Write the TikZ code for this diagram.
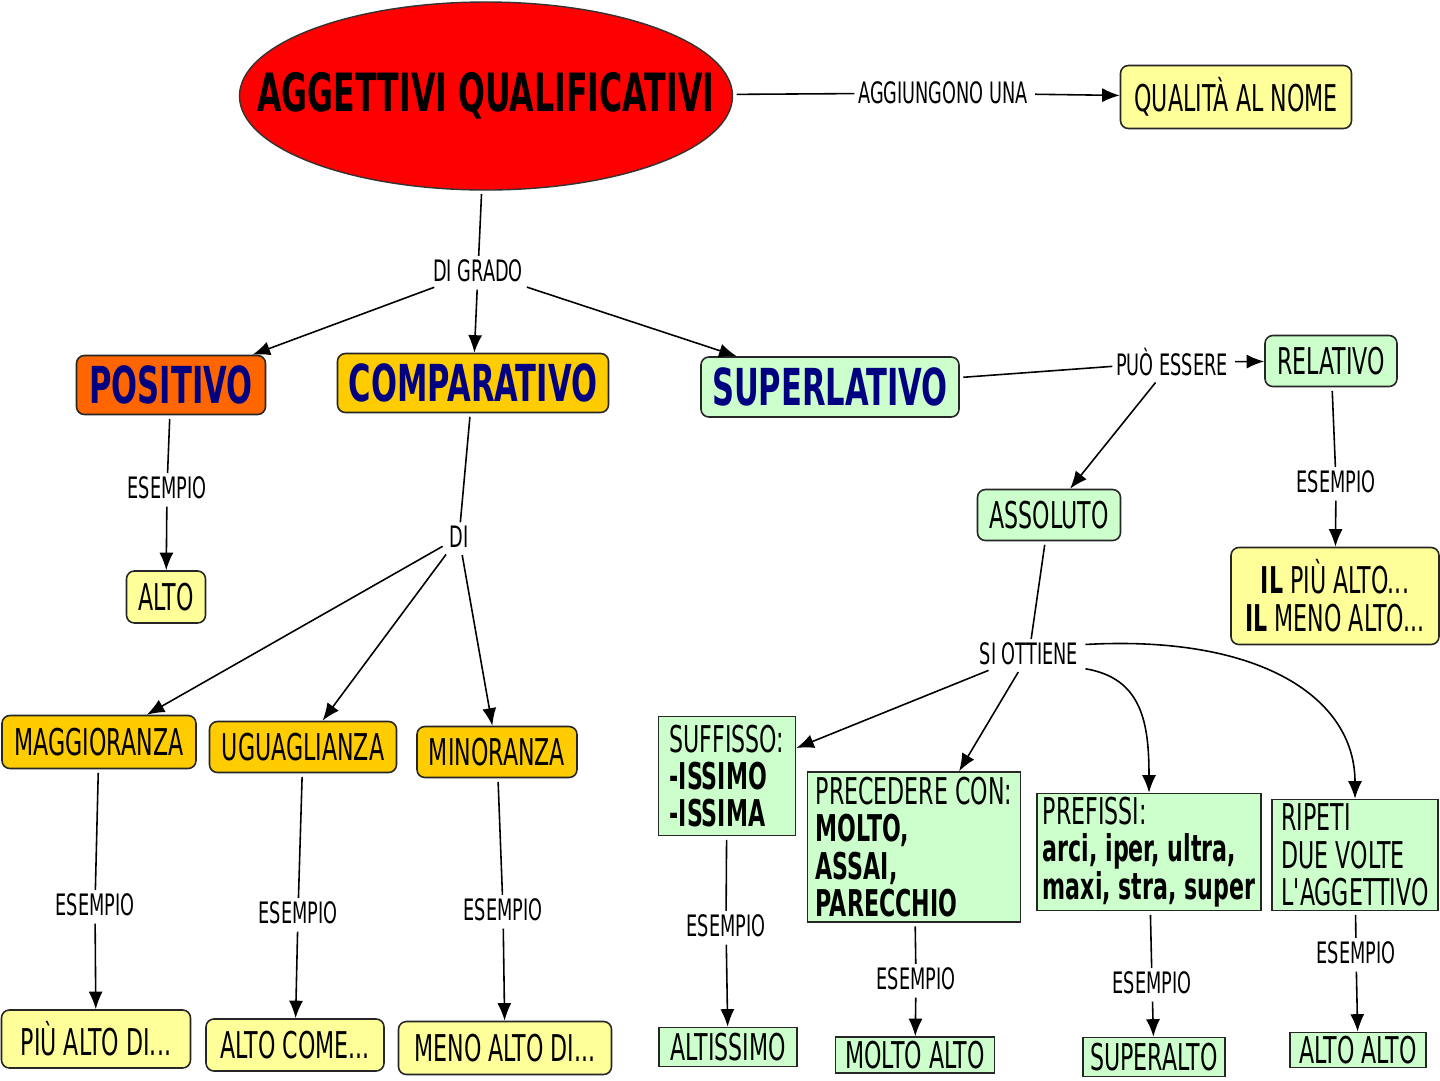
\documentclass[tikz,border=0pt]{standalone}
\usepackage{fontspec}
\setmainfont{DejaVu Sans}[FakeStretch=0.6, Ligatures=TeXOff]
\usepackage{tikz}
\usetikzlibrary{shapes.geometric}
\usetikzlibrary{arrows.meta}

\definecolor{ltyellow}{HTML}{FFFF99}
\definecolor{ltgreen}{HTML}{CCFFCC}
\definecolor{gold}{HTML}{FFCC00}
\definecolor{myorange}{HTML}{FF6600}
\definecolor{navytext}{HTML}{000080}

\begin{document}
\begin{tikzpicture}[x=0.02cm, y=-0.02cm,
  dims/.style 2 args={minimum width=#1*0.02cm, minimum height=#2*0.02cm},
  box/.style={draw=black!85, line width=0.9pt, rounded corners=4.5pt, inner sep=2pt,
    font=\fontsize{21}{21.5}\selectfont},
  big/.style={box, text=navytext, font=\fontsize{29}{30}\selectfont\bfseries},
  sq/.style={draw=black!85, line width=0.9pt, fill=ltgreen, inner sep=2pt, align=left,
    font=\fontsize{21}{21.3}\selectfont},
  lbl/.style={inner sep=2pt, font=\fontsize{16.8}{17}\selectfont},
  ln/.style={line width=0.9pt, shorten <=2pt},
  arr/.style={ln, -{Latex[length=10pt,width=8pt]}}]
  \useasboundingbox (0,0) rectangle (1440,1080);

  % main concept
  \node[ellipse, draw=black!80, line width=0.8pt, fill=red, dims={493}{188}, inner sep=0pt] (ell) at (486,96) {};
  \node[font=\fontsize{30}{31}\selectfont\bfseries] (title) at (ell) {AGGETTIVI QUALIFICATIVI};
  \node[lbl] (aggiung) at (943,93) {AGGIUNGONO UNA};
  \node[box, fill=ltyellow, dims={231}{63}] (qual) at (1236,97) {QUALITÀ AL NOME};
  \node[lbl] (grado) at (478,271) {DI GRADO};

  % degrees
  \node[big, fill=myorange, dims={189}{59}] (pos) at (171,385) {POSITIVO};
  \node[big, fill=gold, dims={271}{59}] (comp) at (473,383) {COMPARATIVO};
  \node[big, fill=ltgreen, dims={258}{60}] (sup) at (830,387) {SUPERLATIVO};

  % positivo
  \node[lbl] (esPos) at (167,488) {ESEMPIO};
  \node[box, fill=ltyellow, dims={79}{52}] (alto) at (166,597) {ALTO};

  % comparativo
  \node[lbl] (di) at (459,537) {DI};
  \node[box, fill=gold, dims={194}{53}] (magg) at (99,742) {MAGGIORANZA};
  \node[box, fill=gold, dims={187}{51}] (ugu) at (303,747) {UGUAGLIANZA};
  \node[box, fill=gold, dims={160}{51}] (mino) at (497,752) {MINORANZA};
  \node[lbl] (esMagg) at (95,905) {ESEMPIO};
  \node[lbl] (esUgu) at (298,913) {ESEMPIO};
  \node[lbl] (esMino) at (503,910) {ESEMPIO};
  \node[box, fill=ltyellow, dims={189}{58}] (piu) at (96,1039) {PIÙ ALTO DI...};
  \node[box, fill=ltyellow, dims={178}{52}] (come) at (295,1045) {ALTO COME...};
  \node[box, fill=ltyellow, dims={213}{53}] (meno) at (505,1048) {MENO ALTO DI...};

  % superlativo
  \node[lbl] (puo) at (1172,362) {PUÒ ESSERE};
  \node[box, fill=ltgreen, dims={132}{51}] (rel) at (1331,361) {RELATIVO};
  \node[lbl] (esRel) at (1336,482) {ESEMPIO};
  \node[box, fill=ltyellow, dims={208}{97}, align=center] (ilPiu) at (1335,596)
    {\textbf{IL} PIÙ ALTO...\\\textbf{IL} MENO ALTO...};
  \node[box, fill=ltgreen, dims={143}{51}] (ass) at (1049,515) {ASSOLUTO};
  \node[lbl] (siO) at (1029,654) {SI OTTIENE};

  \node[sq, dims={137}{119}] (suff) at (727,776) {SUFFISSO:\\\textbf{-ISSIMO}\\\textbf{-ISSIMA}};
  \node[sq, dims={213}{150}] (prec) at (914,847)
    {PRECEDERE CON:\\\textbf{MOLTO,}\\\textbf{ASSAI,}\\\textbf{PARECCHIO}};
  \node[sq, dims={224}{117}] (pref) at (1149,852)
    {PREFISSI:\\\textbf{arci, iper, ultra,}\\\textbf{maxi, stra, super}};
  \node[sq, dims={166}{111}] (rip) at (1355,855) {RIPETI\\DUE VOLTE\\L'AGGETTIVO};

  \node[lbl] (esSuff) at (726,926) {ESEMPIO};
  \node[lbl] (esPrec) at (916,979) {ESEMPIO};
  \node[lbl] (esPref) at (1152,983) {ESEMPIO};
  \node[lbl] (esRip) at (1356,953) {ESEMPIO};
  \node[sq, dims={138}{39}] (altis) at (728,1047) {ALTISSIMO};
  \node[sq, dims={159}{36}] (moltoAlto) at (915,1055) {MOLTO ALTO};
  \node[sq, dims={142}{39}] (superalto) at (1154,1057) {SUPERALTO};
  \node[sq, dims={136}{35}] (altoAlto) at (1358,1050) {ALTO ALTO};

  % links
  \draw[ln] (ell) -- (aggiung);
  \draw[arr] (aggiung) -- (qual);
  \draw[ln] (ell) -- (grado);
  \foreach \t in {pos,comp,sup} {
    \draw[arr] (grado) -- (\t);
  }
  \draw[ln] (comp) -- (di);
  \foreach \t in {magg,ugu,mino} {
    \draw[arr] (di) -- (\t);
  }
  \draw[ln] (sup) -- (puo);
  \draw[arr] (puo) -- (rel);
  \draw[arr] (puo) -- (ass);
  \draw[ln] (ass) -- (siO);
  \draw[arr] (siO) -- (suff);
  \draw[arr] (siO) -- (prec);
  \draw[arr] (siO.-15) .. controls +(60,10) and +(0,-70) .. (pref.north);
  \draw[arr] (siO.10) .. controls +(180,-10) and +(0,-100) .. (rip.north);

  % examples
  \foreach \a/\b/\c in {pos/esPos/alto, magg/esMagg/piu, ugu/esUgu/come, mino/esMino/meno,
      rel/esRel/ilPiu, suff/esSuff/altis, prec/esPrec/moltoAlto, pref/esPref/superalto,
      rip/esRip/altoAlto} {
    \draw[ln] (\a) -- (\b);
    \draw[arr] (\b) -- (\c);
  }
\end{tikzpicture}
\end{document}
